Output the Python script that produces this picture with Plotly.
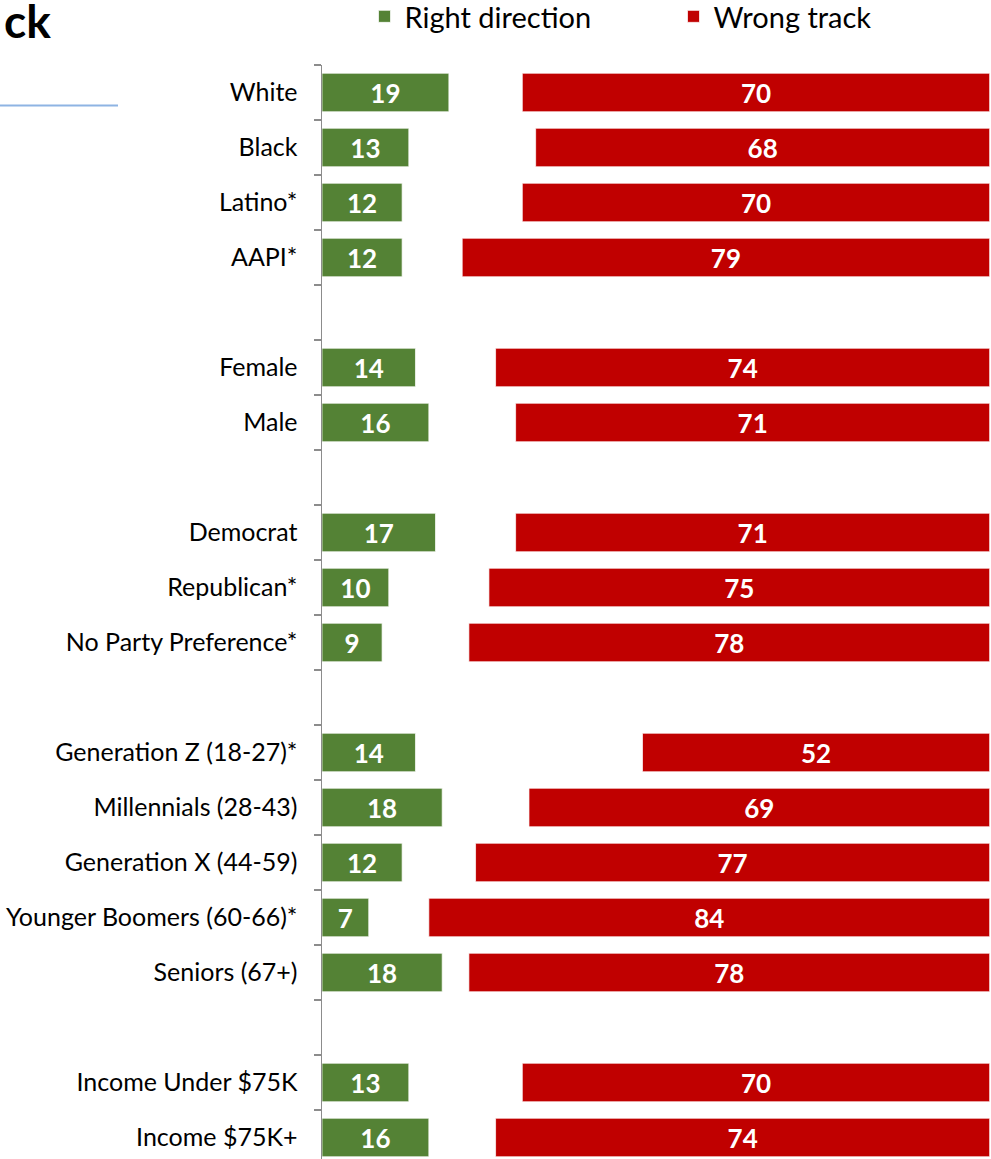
import plotly.graph_objects as go

categories = ["White", "Black", "Latino*", "AAPI*", " ",
              "Female", "Male", "  ",
              "Democrat", "Republican*", "No Party Preference*", "   ",
              "Generation Z (18-27)*", "Millennials (28-43)", "Generation X (44-59)",
              "Younger Boomers (60-66)*", "Seniors (67+)", "    ",
              "Income Under $75K", "Income $75K+"]
right_direction = [19, 13, 12, 12, None, 14, 16, None, 17, 10, 9, None,
                   14, 18, 12, 7, 18, None, 13, 16]
wrong_track = [70, 68, 70, 79, None, 74, 71, None, 71, 75, 78, None,
               52, 69, 77, 84, 78, None, 70, 74]
series_names = ["Right direction", "Wrong track"]
title_text = "ck"

GREEN = "#548235"
RED = "#C00000"
FONT = "Lato"

W, H = 991, 1159
L, R, T, B = 322, 0, 65, 0
PW, PH = W - L - R, H - T - B
SLOT = 55.0


def px_x(px):
    return (px - L) / PW


def px_y(py):
    return 1 - (py - T) / PH


red_base = [None if v is None else 100 - v for v in wrong_track]

fig = go.Figure()
fig.add_trace(go.Bar(
    y=categories, x=right_direction, orientation="h", name=series_names[0],
    marker=dict(color=GREEN, line=dict(color="rgba(255,255,255,0.7)", width=1)),
    width=0.7, text=right_direction, texttemplate="%{x}", textposition="inside",
    insidetextanchor="middle", textangle=0, constraintext="none",
    textfont=dict(family=FONT, size=26, color="white", weight="bold"),
    hoverinfo="skip", cliponaxis=False,
))
fig.add_trace(go.Bar(
    y=categories, x=wrong_track, base=red_base, orientation="h", name=series_names[1],
    marker=dict(color=RED, line=dict(color="rgba(255,255,255,0.7)", width=1)),
    width=0.7, text=wrong_track, texttemplate="%{text}", textposition="inside",
    insidetextanchor="middle", textangle=0, constraintext="none",
    textfont=dict(family=FONT, size=26, color="white", weight="bold"),
    hoverinfo="skip", cliponaxis=False,
))

fig.update_layout(
    width=W, height=H,
    margin=dict(l=L, r=R, t=T, b=B, pad=0, autoexpand=False),
    paper_bgcolor="white", plot_bgcolor="white",
    barmode="overlay",
    showlegend=True,
    legend=dict(orientation="h", x=px_x(364.5), xanchor="left", y=px_y(16.5), yanchor="middle",
                font=dict(family=FONT, size=29, color="black"),
                entrywidth=264, entrywidthmode="pixels",
                bgcolor="rgba(0,0,0,0)", traceorder="normal"),
    font=dict(family=FONT, color="black"),
    xaxis=dict(range=[0, 100.2], visible=False, fixedrange=True),
    yaxis=dict(
        type="category", categoryorder="array", categoryarray=categories,
        range=[-0.5 + PH / SLOT, -0.5],
        showline=True, linecolor="#8C8C8C", linewidth=1.5,
        ticks="outside", tickson="boundaries", ticklen=7, tickcolor="#8C8C8C", tickwidth=1.5,
        tickfont=dict(family=FONT, size=25, color="black"),
        ticklabelstandoff=18,
        showgrid=False, zeroline=False, fixedrange=True,
    ),
    shapes=[dict(type="line", xref="paper", yref="paper",
                 x0=px_x(0), x1=px_x(118), y0=px_y(105.5), y1=px_y(105.5),
                 line=dict(color="#8EB4E3", width=2))],
    annotations=[dict(text=title_text, xref="paper", yref="paper",
                      x=px_x(53), y=px_y(50), xanchor="right", yanchor="bottom",
                      showarrow=False,
                      font=dict(family=FONT, size=46, color="black", weight="bold"))],
)

fig.write_html(
    "out.html",
    config={"displayModeBar": False, "staticPlot": True},
    post_script="document.body.style.margin='0';document.body.style.overflow='hidden';",
)
